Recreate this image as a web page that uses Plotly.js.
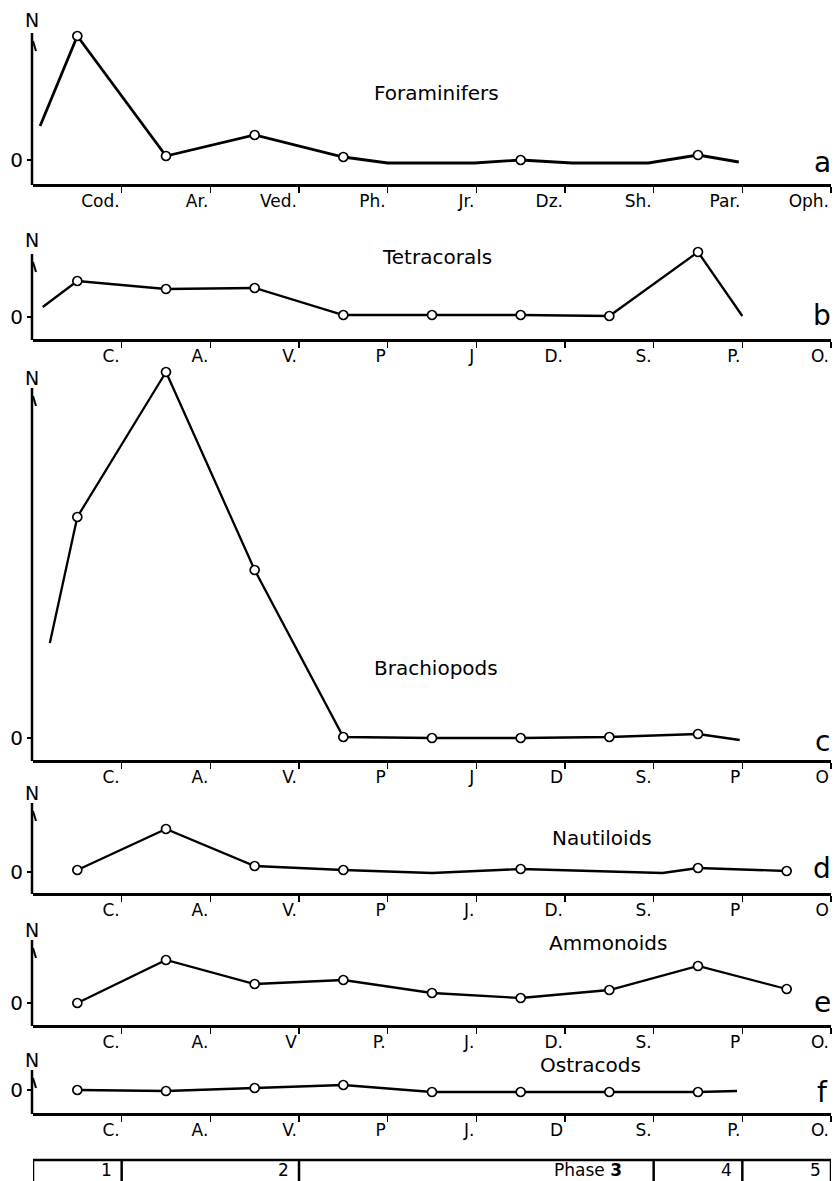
<!DOCTYPE html>
<html>
<head>
<meta charset="utf-8">
<script src="https://cdn.plot.ly/plotly-3.0.1.min.js"></script>
<style>html,body{margin:0;padding:0;background:#fff;}#chart{width:835px;height:1181px;}</style>
</head>
<body>
<div id="chart"></div>
<script>
// ---------- DATA ----------
// x = position along the stage sequence (stage i occupies [i-1, i]; markers at stage mid-points)
const ticksA = ["Cod.", "Ar.", "Ved.", "Ph.", "Jr.", "Dz.", "Sh.", "Par.", "Oph."];
const ticksB = ["C.", "A.", "V.", "P", "J", "D.", "S.", "P.", "O."];
const ticksC = ["C.", "A.", "V.", "P", "J", "D", "S.", "P", "O"];
const ticksD = ["C.", "A.", "V.", "P", "J.", "D.", "S.", "P", "O"];
const ticksE = ["C.", "A.", "V", "P.", "J.", "D.", "S.", "P", "O."];
const ticksF = ["C.", "A.", "V.", "P", "J.", "D", "S.", "P.", "O."];

const foramX = [0.08, 0.5, 1.5, 2.5, 3.5, 4.0, 4.98, 5.5, 6.08, 6.94, 7.5, 7.96];
const foramN = [3.4, 12.4, 0.4, 2.5, 0.3, -0.3, -0.3, 0.0, -0.3, -0.3, 0.5, -0.2];
const foramMark = [0, 1, 1, 1, 1, 0, 0, 1, 0, 0, 1, 0];

const tetraX = [0.11, 0.5, 1.5, 2.5, 3.5, 4.5, 5.5, 6.5, 7.5, 8.0];
const tetraN = [1.0, 3.6, 2.8, 2.9, 0.2, 0.2, 0.2, 0.1, 6.5, 0.1];
const tetraMark = [0, 1, 1, 1, 1, 1, 1, 1, 1, 0];

const brachX = [0.19, 0.5, 1.5, 2.5, 3.5, 4.5, 5.5, 6.5, 7.5, 7.97];
const brachN = [9.5, 22.1, 36.6, 16.8, 0.1, 0.0, 0.0, 0.1, 0.4, -0.2];
const brachMark = [0, 1, 1, 1, 1, 1, 1, 1, 1, 0];

const nautX = [0.5, 1.5, 2.5, 3.5, 4.5, 5.5, 7.1, 7.5, 8.5];
const nautN = [0.2, 4.3, 0.6, 0.2, -0.1, 0.3, -0.1, 0.4, 0.1];
const nautMark = [1, 1, 1, 1, 0, 1, 0, 1, 1];

const ammonX = [0.5, 1.5, 2.5, 3.5, 4.5, 5.5, 6.5, 7.5, 8.5];
const ammonN = [0.0, 4.3, 1.9, 2.3, 1.0, 0.5, 1.3, 3.7, 1.4];
const ammonMark = [1, 1, 1, 1, 1, 1, 1, 1, 1];

const ostraX = [0.5, 1.5, 2.5, 3.5, 4.5, 5.5, 6.5, 7.5, 7.94];
const ostraN = [0.0, -0.1, 0.2, 0.5, -0.2, -0.2, -0.2, -0.2, -0.1];
const ostraMark = [1, 1, 1, 1, 1, 1, 1, 1, 0];

const groupNames = ["Foraminifers", "Tetracorals", "Brachiopods", "Nautiloids", "Ammonoids", "Ostracods"];
const panelLetters = ["a", "b", "c", "d", "e", "f"];

const phaseBounds = [0, 1, 3, 7, 8, 9];
const phaseLabels = ["1", "2", "Phase <b>3</b>", "4", "5"];

// ---------- LAYOUT GEOMETRY (pixels) ----------
const W = 835, H = 1181;
const AX_L = 33, AX_R = 831;
const PX_PER_UNIT = 10;
const HEADROOM = 25;
const geom = [ // top of y axis line, zero line, x axis line
  {t: 33,  z: 160, b: 184, n: 20,  name: [437, 93],  lw: 2.8},
  {t: 254, z: 317, b: 339, n: 240, name: [437, 257], lw: 2.3},
  {t: 388, z: 738, b: 760, n: 378, name: [436, 668], lw: 2.3},
  {t: 803, z: 872, b: 893, n: 793, name: [602, 838], lw: 2.3},
  {t: 940, z: 1003, b: 1025, n: 930, name: [608, 943], lw: 2.3},
  {t: 1070, z: 1090, b: 1113, n: 1060, name: [590, 1065], lw: 2.3}
];
const letterY = [163, 315, 742, 868, 1002, 1092];

const series = [
  [foramX, foramN, foramMark, ticksA],
  [tetraX, tetraN, tetraMark, ticksB],
  [brachX, brachN, brachMark, ticksC],
  [nautX, nautN, nautMark, ticksD],
  [ammonX, ammonN, ammonMark, ticksE],
  [ostraX, ostraN, ostraMark, ticksF]
];

const FONT = "DejaVu Sans, Liberation Sans, sans-serif";
const px = v => v / W;
const py = v => 1 - v / H;

const traces = [];
const layout = {
  width: W, height: H,
  margin: {l: 0, r: 0, t: 0, b: 0},
  paper_bgcolor: "white", plot_bgcolor: "rgba(0,0,0,0)",
  showlegend: false,
  font: {family: FONT, color: "black"},
  annotations: [],
  shapes: []
};

series.forEach((s, i) => {
  const g = geom[i];
  const k = i + 1;
  const top = g.t - HEADROOM;
  traces.push({
    type: "scatter", mode: "lines+markers",
    x: s[0], y: s[1],
    xaxis: "x" + k, yaxis: "y" + k,
    cliponaxis: false,
    line: {color: "black", width: g.lw},
    marker: {
      size: s[2].map(m => m ? 9 : 0),
      color: "#ffffff",
      opacity: 1,
      line: {color: "black", width: s[2].map(m => m ? 1.7 : 0)}
    },
    hoverinfo: "skip"
  });
  layout["xaxis" + k] = {
    domain: [px(AX_L), px(AX_R)], range: [0, 9], anchor: "y" + k,
    showline: true, linecolor: "black", linewidth: 2.5,
    ticks: "outside", ticklen: 6, tickwidth: 1.5, tickcolor: "black",
    tickvals: [1, 2, 3, 4, 5, 6, 7, 8, 9], ticktext: s[3],
    ticklabelposition: "outside left",
    tickfont: {size: 17, family: FONT, color: "black"},
    showgrid: false, zeroline: false, fixedrange: true
  };
  layout["yaxis" + k] = {
    domain: [py(g.b), py(top)],
    range: [-(g.b - g.z) / PX_PER_UNIT, (g.z - top) / PX_PER_UNIT],
    anchor: "x" + k,
    showline: false,
    ticks: "outside", ticklen: 5, tickwidth: 2, tickcolor: "black",
    tickvals: [0], ticktext: ["0"],
    tickfont: {size: 20, family: FONT, color: "black"},
    showgrid: false, zeroline: false, fixedrange: true
  };
  // y axis line (drawn from just below the N down to the x axis)
  layout.shapes.push({
    type: "line", xref: "paper", yref: "paper",
    x0: px(AX_L - 1), x1: px(AX_L - 1), y0: py(g.t), y1: py(g.b + 1),
    line: {color: "black", width: 2.5}
  });
  // small arrow barb on the y axis
  layout.shapes.push({
    type: "line", xref: "paper", yref: "paper",
    x0: px(AX_L), y0: py(g.t + 8), x1: px(AX_L + 3), y1: py(g.t + 18),
    line: {color: "black", width: 2}
  });
  // N label above the axis
  layout.annotations.push({
    xref: "paper", yref: "paper", x: px(32), y: py(g.n),
    text: "N", showarrow: false, xanchor: "center", yanchor: "middle",
    font: {size: 19, family: FONT, color: "black"}
  });
  // group name
  layout.annotations.push({
    xref: "paper", yref: "paper", x: px(g.name[0]), y: py(g.name[1]),
    text: groupNames[i], showarrow: false, xanchor: "center", yanchor: "middle",
    font: {size: 20, family: FONT, color: "black"}
  });
  // panel letter
  layout.annotations.push({
    xref: "paper", yref: "paper", x: px(822), y: py(letterY[i]),
    text: panelLetters[i], showarrow: false, xanchor: "center", yanchor: "middle",
    font: {size: 28, family: FONT, color: "black"}
  });
});

// Phase bar
const barTop = 1160, barBot = 1186;
layout.shapes.push({
  type: "rect", xref: "x6", yref: "paper",
  x0: phaseBounds[0], x1: phaseBounds[phaseBounds.length - 1],
  y0: py(barBot), y1: py(barTop),
  line: {color: "black", width: 2.5}, fillcolor: "rgba(0,0,0,0)"
});
phaseBounds.slice(1, -1).forEach(b => {
  layout.shapes.push({
    type: "line", xref: "x6", yref: "paper",
    x0: b, x1: b, y0: py(barBot), y1: py(barTop),
    line: {color: "black", width: 2.5}
  });
});
phaseLabels.forEach((lab, j) => {
  layout.annotations.push({
    xref: "x6", yref: "paper", x: phaseBounds[j + 1], y: py(1170),
    text: lab, showarrow: false, xanchor: "right", yanchor: "middle",
    xshift: j === 2 ? -30 : -8,
    font: {size: 17, family: FONT, color: "black"}
  });
});

Plotly.newPlot("chart", traces, layout, {staticPlot: true, displayModeBar: false});
</script>
</body>
</html>
